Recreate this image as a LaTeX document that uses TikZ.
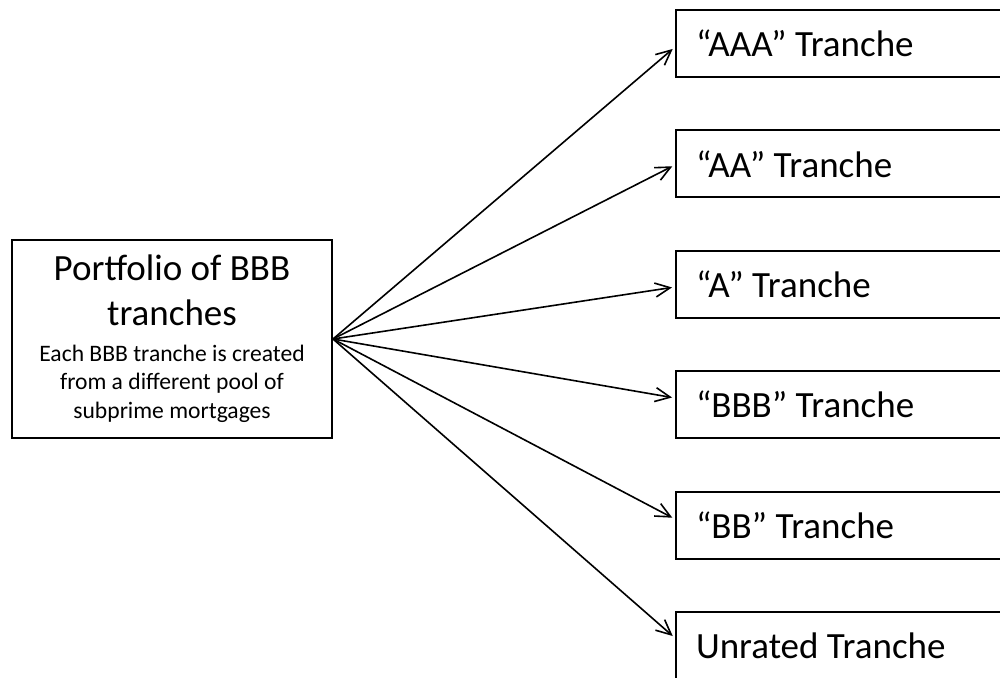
\documentclass[tikz,border=0pt]{standalone}
\usepackage{fontspec}
\setmainfont{Carlito}
\usetikzlibrary{arrows.meta,positioning}

% font size with plain (unstretched) word spaces
\newcommand{\sizedtext}[2]{\fontsize{#1}{#2}\selectfont\spaceskip=\fontdimen2\font\relax}

\begin{document}
\begin{tikzpicture}[
    x=1pt, y=-1pt,
    node distance=51.4pt,
    srcbox/.style={rectangle, draw, line width=2pt, minimum width=320pt, minimum height=198pt, text width=310pt, inner sep=0pt, align=center},
    tranche/.style={rectangle, draw, line width=2pt, minimum height=67pt, text width=300pt, inner xsep=20pt, inner ysep=0pt, align=left, execute at begin node={\sizedtext{37}{45}}},
    arrow/.style={-{Straight Barb[length=15pt,width=14pt]}, line width=1.6pt, shorten >=3pt}
]
\useasboundingbox (0,0) rectangle (1000,677);
\clip (0,0) rectangle (1000,677);

% Nodes
\node[srcbox] (pool) at (172,339) {\sizedtext{37}{45}Portfolio of BBB\\tranches\par\vspace{6.5pt}\sizedtext{23.6}{28.8}Each BBB tranche is created\\from a different pool of\\subprime mortgages\par\vspace{-7.5pt}};
\node[tranche, anchor=west] (aaa) at (675,43.5) {“AAA” Tranche};
\node[tranche, below=of aaa] (aa) {“AA” Tranche};
\node[tranche, below=of aa] (a) {“A” Tranche};
\node[tranche, below=of a] (bbb) {“BBB” Tranche};
\node[tranche, below=of bbb] (bb) {“BB” Tranche};
\node[tranche, below=of bb] (unrated) {Unrated Tranche};

% Arrows
\draw[arrow] (pool.east) -- ([yshift=-3.5pt]aaa.west);
\draw[arrow] (pool.east) -- ([yshift=-1pt]aa.west);
\draw[arrow] (pool.east) -- ([yshift=-2.7pt]a.west);
\draw[arrow] (pool.east) -- ([yshift=6.7pt]bbb.west);
\draw[arrow] (pool.east) -- ([yshift=6pt]bb.west);
\draw[arrow] (pool.east) -- ([yshift=7.5pt]unrated.west);

\end{tikzpicture}
\end{document}
